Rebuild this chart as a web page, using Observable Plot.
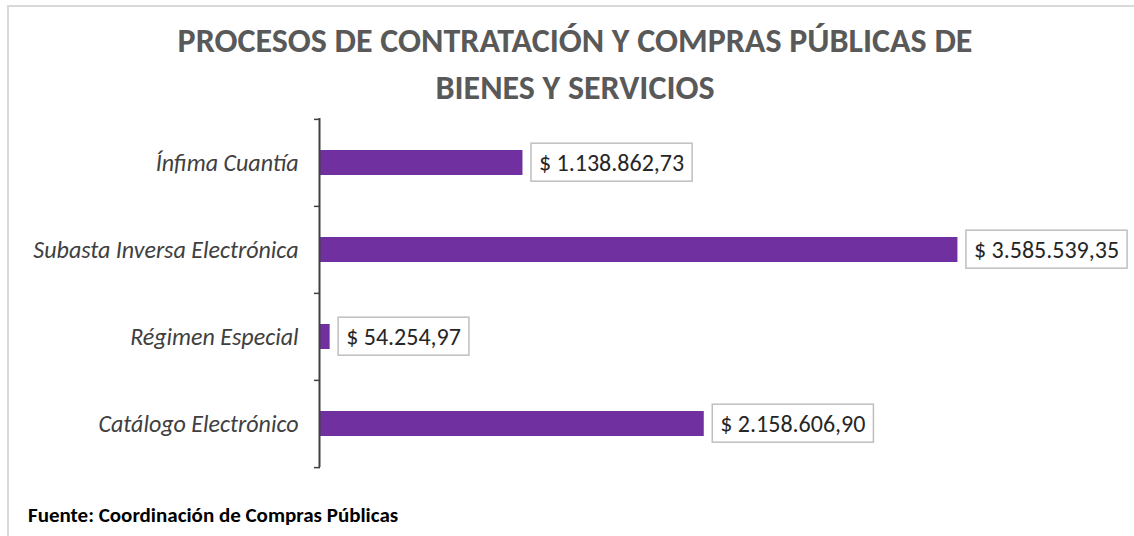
<!DOCTYPE html>
<html><head><meta charset="utf-8">
<script src="https://cdn.jsdelivr.net/npm/d3@7"></script>
<script src="https://cdn.jsdelivr.net/npm/@observablehq/plot@0.6"></script>
<style>
body{margin:0;background:#fff;width:1134px;height:536px;overflow:hidden;position:relative;font-family:Calibri,Carlito,Lato,sans-serif}
#frame{position:absolute;left:7px;top:5px;width:1200px;height:600px;border-left:2px solid #d9d9d9;border-top:2px solid #d9d9d9}
#title{position:absolute;left:0;width:1150px;top:17px;text-align:center;font-weight:700;font-size:34px;line-height:47px;color:#595959;white-space:nowrap}
#chart{position:absolute;left:0;top:112px}
#caption{position:absolute;left:28px;top:502px;font-weight:700;font-size:21px;color:#000;white-space:nowrap}
</style>
</head><body>
<div id="frame"></div>
<div id="title">PROCESOS DE CONTRATACIÓN Y COMPRAS PÚBLICAS DE<br>BIENES Y SERVICIOS</div>
<div id="chart"></div>
<div id="caption">Fuente: Coordinación de Compras Públicas</div>
<script>
const categories = ["Ínfima Cuantía", "Subasta Inversa Electrónica", "Régimen Especial", "Catálogo Electrónico"];
const values = [1138862.73, 3585539.35, 54254.97, 2158606.90];

const data = categories.map((c, i) => ({cat: c, value: values[i]}));
const loc = d3.formatLocale({decimal: ",", thousands: ".", grouping: [3], currency: ["$ ", ""]});
const fmt = loc.format("$,.2f");

const H = 364, mT = 6, mB = 9;
const step = (H - mT - mB) / categories.length;
const font = "Calibri, Carlito, Lato, sans-serif";

const chart = Plot.plot({
  width: 1134,
  height: H,
  marginLeft: 320,
  marginRight: 14,
  marginTop: mT,
  marginBottom: mB,
  style: {fontFamily: font, background: "transparent"},
  x: {domain: [0, 4500000], axis: null},
  y: {domain: categories, padding: 0, axis: null},
  marks: [
    Plot.barX(data, {x: "value", y: "cat", fill: "#7030a0", insetTop: 31, insetBottom: 31}),
    Plot.ruleX([0], {stroke: "#404040", strokeWidth: 2, dx: -1}),
    Plot.ruleY(data, {y: "cat", x1: d => 0, x2: d => 0, insetLeft: -6, dy: -step / 2, stroke: "#404040", strokeWidth: 1.5}),
    Plot.ruleY(data.slice(-1), {y: "cat", x1: d => 0, x2: d => 0, insetLeft: -6, dy: step / 2, stroke: "#404040", strokeWidth: 1.5}),
    Plot.text(data, {x: d => 0, y: "cat", text: "cat", textAnchor: "end", dx: -22, fontSize: 24, fontStyle: "italic", fill: "#404040"}),
    Plot.text(data, {x: "value", y: "cat", text: d => fmt(d.value), textAnchor: "start", dx: 16, fontSize: 24, fill: "#262626"})
  ]
});
document.getElementById("chart").appendChild(chart);

// draw label boxes around value labels
chart.querySelectorAll("text").forEach(t => {
  if (!/^\$ /.test(t.textContent)) return;
  const b = t.getBBox();
  const r = document.createElementNS("http://www.w3.org/2000/svg", "rect");
  r.setAttribute("x", b.x - 8);
  r.setAttribute("y", b.y - 4.5);
  r.setAttribute("width", b.width + 16);
  r.setAttribute("height", b.height + 9);
  r.setAttribute("fill", "#fff");
  r.setAttribute("stroke", "#bfbfbf");
  r.setAttribute("stroke-width", 1.5);
  const tr = t.getAttribute("transform");
  if (tr) r.setAttribute("transform", tr);
  t.parentNode.insertBefore(r, t);
});
</script>
</body></html>
